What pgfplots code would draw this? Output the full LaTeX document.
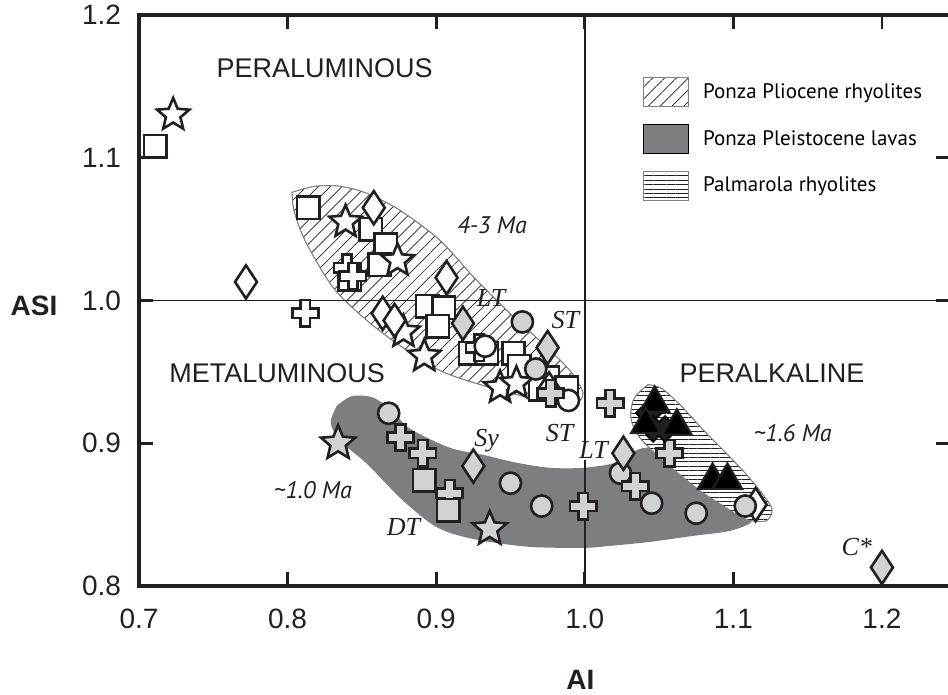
\documentclass[border=0pt]{standalone}
\usepackage{fontspec}
\setmainfont{Liberation Sans}
\newfontfamily\mfont{PT Sans}
\newfontfamily\tfont{Liberation Serif}
\usepackage{pgfplots}
\pgfplotsset{compat=1.18}
\usetikzlibrary{patterns.meta}

\definecolor{regiongray}{HTML}{7D7E82}
\definecolor{markgray}{HTML}{D1D2D4}
\definecolor{edge}{HTML}{231F20}

\pgfdeclareplotmark{fatplus}{%
  \pgfpathmoveto{\pgfpoint{-0.36\pgfplotmarksize}{\pgfplotmarksize}}%
  \pgfpathlineto{\pgfpoint{0.36\pgfplotmarksize}{\pgfplotmarksize}}%
  \pgfpathlineto{\pgfpoint{0.36\pgfplotmarksize}{0.36\pgfplotmarksize}}%
  \pgfpathlineto{\pgfpoint{\pgfplotmarksize}{0.36\pgfplotmarksize}}%
  \pgfpathlineto{\pgfpoint{\pgfplotmarksize}{-0.36\pgfplotmarksize}}%
  \pgfpathlineto{\pgfpoint{0.36\pgfplotmarksize}{-0.36\pgfplotmarksize}}%
  \pgfpathlineto{\pgfpoint{0.36\pgfplotmarksize}{-\pgfplotmarksize}}%
  \pgfpathlineto{\pgfpoint{-0.36\pgfplotmarksize}{-\pgfplotmarksize}}%
  \pgfpathlineto{\pgfpoint{-0.36\pgfplotmarksize}{-0.36\pgfplotmarksize}}%
  \pgfpathlineto{\pgfpoint{-\pgfplotmarksize}{-0.36\pgfplotmarksize}}%
  \pgfpathlineto{\pgfpoint{-\pgfplotmarksize}{0.36\pgfplotmarksize}}%
  \pgfpathlineto{\pgfpoint{-0.36\pgfplotmarksize}{0.36\pgfplotmarksize}}%
  \pgfpathclose
  \pgfusepathqfillstroke
}
\pgfdeclareplotmark{fatstar}{%
  \pgfpathmoveto{\pgfpoint{0pt}{\pgfplotmarksize}}%
  \pgfpathlineto{\pgfpoint{0.2645\pgfplotmarksize}{0.3641\pgfplotmarksize}}%
  \pgfpathlineto{\pgfpoint{0.9511\pgfplotmarksize}{0.3090\pgfplotmarksize}}%
  \pgfpathlineto{\pgfpoint{0.4280\pgfplotmarksize}{-0.1391\pgfplotmarksize}}%
  \pgfpathlineto{\pgfpoint{0.5878\pgfplotmarksize}{-0.8090\pgfplotmarksize}}%
  \pgfpathlineto{\pgfpoint{0pt}{-0.45\pgfplotmarksize}}%
  \pgfpathlineto{\pgfpoint{-0.5878\pgfplotmarksize}{-0.8090\pgfplotmarksize}}%
  \pgfpathlineto{\pgfpoint{-0.4280\pgfplotmarksize}{-0.1391\pgfplotmarksize}}%
  \pgfpathlineto{\pgfpoint{-0.9511\pgfplotmarksize}{0.3090\pgfplotmarksize}}%
  \pgfpathlineto{\pgfpoint{-0.2645\pgfplotmarksize}{0.3641\pgfplotmarksize}}%
  \pgfpathclose
  \pgfusepathqfillstroke
}

\pgfplotsset{
  openm/.style={only marks, mark options={fill=white, draw=edge, line width=1.3pt}},
  graym/.style={only marks, mark options={fill=markgray, draw=edge, line width=1.3pt}},
}

\begin{document}
\begin{tikzpicture}
\begin{axis}[
  scale only axis, width=405.5pt, height=285.5pt,
  xmin=0.7, xmax=1.2458, ymin=0.8, ymax=1.2,
  xtick={0.7,0.8,0.9,1.0,1.1,1.2},
  xticklabels={0.7,0.8,0.9,1.0,1.1,1.2},
  ytick={0.8,0.9,1.0,1.1,1.2},
  yticklabels={0.8,0.9,1.0,1.1,1.2},
  tick align=inside, major tick length=7pt,
  tick style={line width=1.4pt, edge},
  axis line style={line width=1.6pt, edge},
  ticklabel style={font=\fontsize{14}{16}\selectfont, text=edge},
  yticklabel style={xshift=-5.5pt},
  xticklabel style={yshift=-8pt},
  clip=false,
  legend style={at={(axis cs:1.0392,1.1565)}, anchor=north west, draw=none, fill=none,
    inner sep=0pt, row sep=8.5pt, font=\mfont\fontsize{10.5}{12}\selectfont,
    nodes={inner xsep=7pt, inner ysep=0pt}},
  legend cell align=left,
  legend image code/.code={\draw[#1] (0pt,-7.25pt) rectangle (22.5pt,7.25pt);},
]
% Ponza Pliocene rhyolites
\addplot[draw=gray, line width=0.4pt, fill=white,
  postaction={pattern={Lines[angle=45,distance=4.2pt,line width=0.35pt]}, pattern color=edge},
  smooth, tension=0.5] coordinates {
(0.8030,1.0758) (0.8184,1.0800) (0.8353,1.0800) (0.8534,1.0751) (0.8756,1.0632)
(0.9026,1.0421) (0.9261,1.0154) (0.9497,0.9909) (0.9732,0.9684) (0.9900,0.9509)
(0.9988,0.9354) (0.9934,0.9270) (0.9800,0.9277) (0.9544,0.9340) (0.9295,0.9411)
(0.9026,0.9509) (0.8756,0.9684) (0.8534,0.9860) (0.8306,1.0091) (0.8117,1.0421)
(0.8043,1.0632) (0.8030,1.0758)} -- cycle;
\addlegendentry{Ponza Pliocene rhyolites}
% Ponza Pleistocene lavas
\addplot[draw=none, fill=regiongray, smooth, tension=0.5] coordinates {
(0.8332,0.9263) (0.8433,0.9330) (0.8575,0.9320) (0.8703,0.9228) (0.8824,0.9102)
(0.9093,0.8968) (0.9315,0.8919) (0.9544,0.8863) (0.9766,0.8828) (0.9988,0.8828)
(1.0203,0.8863) (1.0371,0.8961) (1.0506,0.8947) (1.0775,0.8737) (1.1011,0.8561)
(1.1125,0.8456) (1.0977,0.8386) (1.0728,0.8351) (1.0439,0.8309) (1.0170,0.8281)
(0.9988,0.8267) (0.9631,0.8274) (0.9315,0.8316) (0.9093,0.8372) (0.8958,0.8442)
(0.8756,0.8618) (0.8534,0.8856) (0.8353,0.9018) (0.8290,0.9144) (0.8332,0.9263)} -- cycle;
\addlegendentry{Ponza Pleistocene lavas}
% Palmarola rhyolites
\addplot[draw=gray, line width=0.4pt, fill=white,
  postaction={pattern={Lines[angle=0,distance=2.2pt,line width=0.3pt]}, pattern color=edge},
  smooth, tension=0.5] coordinates {
(1.0425,0.9411) (1.0520,0.9382) (1.0654,0.9256) (1.0789,0.9102) (1.0923,0.8961)
(1.1065,0.8807) (1.1179,0.8667) (1.1260,0.8540) (1.1219,0.8456) (1.1078,0.8470)
(1.0910,0.8575) (1.0775,0.8667) (1.0641,0.8779) (1.0506,0.8898) (1.0371,0.9039)
(1.0311,0.9172) (1.0331,0.9312) (1.0425,0.9411)} -- cycle;
\addlegendentry{Palmarola rhyolites}

% division lines
\addplot[edge, line width=0.8pt] coordinates {(1.0,0.8) (1.0,1.2)};
\addplot[edge, line width=0.8pt] coordinates {(0.7,1.0) (1.2458,1.0)};

% open symbols
\addplot[openm, mark=square*, mark size=5.6pt] coordinates {
(0.711,1.108) (0.814,1.065) (0.856,1.050) (0.866,1.039) (0.862,1.025) (0.842,1.015)
(0.894,0.996) (0.905,0.995) (0.901,0.982) (0.923,0.963) (0.934,0.963) (0.952,0.963)
(0.956,0.954) (0.975,0.946) (0.970,0.938) (0.988,0.939)};
\addplot[openm, mark=fatstar, mark size=8.5pt] coordinates {
(0.723,1.130) (0.839,1.055) (0.874,1.028) (0.878,0.978) (0.892,0.961) (0.943,0.939) (0.954,0.942)};
\addplot[only marks, mark=diamond*, mark size=8.3pt, mark options={fill=white, draw=edge, line width=1.3pt, xscale=0.88}] coordinates {
(0.772,1.013) (0.858,1.065) (0.907,1.016) (0.864,0.991) (0.872,0.986) (0.976,0.938) (1.115,0.857)};
\addplot[openm, mark=fatplus, mark size=6.6pt] coordinates {
(0.812,0.991) (0.840,1.023) (0.844,1.017) (0.929,0.967)};
\addplot[openm, mark=*, mark size=5.3pt] coordinates {
(0.933,0.968) (0.989,0.930)};

% grey symbols
\addplot[graym, mark=*, mark size=5.3pt] coordinates {
(0.958,0.985) (0.967,0.952) (0.868,0.921) (0.950,0.872) (0.971,0.856) (1.024,0.879)
(1.045,0.858) (1.075,0.851) (1.108,0.856)};
\addplot[only marks, mark=diamond*, mark size=8.3pt, mark options={fill=markgray, draw=edge, line width=1.3pt, xscale=0.88}] coordinates {
(0.918,0.984) (0.975,0.967) (0.925,0.884) (1.026,0.893) (1.200,0.813)};
\addplot[graym, mark=fatplus, mark size=6.6pt] coordinates {
(0.977,0.935) (1.017,0.928) (0.876,0.904) (0.891,0.893) (0.909,0.865) (0.999,0.856)
(1.034,0.870) (1.057,0.893)};
\addplot[graym, mark=square*, mark size=5.6pt] coordinates {
(0.892,0.874) (0.908,0.853)};
\addplot[graym, mark=fatstar, mark size=9pt] coordinates {
(0.834,0.900) (0.936,0.840)};

% black symbols
\addplot[only marks, mark=fatplus, mark size=6.6pt, mark options={rotate=45, fill=edge, draw=black, line width=1pt}] coordinates {
(1.043,0.917) (1.050,0.910)};
\addplot[only marks, mark=triangle*, mark size=8.5pt, mark options={fill=black, draw=edge, line width=1pt}] coordinates {
(1.047,0.928) (1.062,0.912) (1.041,0.913) (1.086,0.874) (1.096,0.874)};

% field names
\node[font=\fontsize{13.5}{16}\selectfont, text=edge] at (axis cs:0.825,1.163) {PERALUMINOUS};
\node[font=\fontsize{13.5}{16}\selectfont, text=edge] at (axis cs:0.793,0.949) {METALUMINOUS};
\node[font=\fontsize{13.5}{16}\selectfont, text=edge] at (axis cs:1.126,0.949) {PERALKALINE};
% ages
\node[font=\mfont\itshape\fontsize{12}{14}\selectfont, text=edge] at (axis cs:0.9376,1.0526) {4-3 Ma};
\node[font=\mfont\itshape\fontsize{12}{14}\selectfont, text=edge] at (axis cs:1.140,0.907) {\textasciitilde1.6 Ma};
\node[font=\mfont\itshape\fontsize{12}{14}\selectfont, text=edge] at (axis cs:0.817,0.867) {\textasciitilde1.0 Ma};
% sample labels
\node[font=\tfont\itshape\fontsize{13}{15}\selectfont, text=edge, inner sep=0pt] at (axis cs:0.937,1.002) {LT};
\node[font=\tfont\itshape\fontsize{13}{15}\selectfont, text=edge, inner sep=0pt] at (axis cs:0.987,0.986) {ST};
\node[font=\tfont\itshape\fontsize{13}{15}\selectfont, text=edge, inner sep=0pt] at (axis cs:0.983,0.907) {ST};
\node[font=\tfont\itshape\fontsize{13}{15}\selectfont, text=edge, inner sep=0pt] at (axis cs:0.934,0.902) {Sy};
\node[font=\tfont\itshape\fontsize{13}{15}\selectfont, text=edge, inner sep=0pt] at (axis cs:0.878,0.841) {DT};
\node[font=\tfont\itshape\fontsize{13}{15}\selectfont, text=edge, fill=white, inner sep=0.5pt] at (axis cs:1.006,0.895) {LT};
\node[font=\tfont\itshape\fontsize{13}{15}\selectfont, text=edge, inner sep=0pt] at (axis cs:1.183,0.827) {C*};
% axis titles
\node[font=\bfseries\fontsize{14}{16}\selectfont, text=edge] at (axis cs:0.997,0.8) [yshift=-47pt] {AI};
\node[font=\bfseries\fontsize{14}{16}\selectfont, text=edge] at (axis cs:0.7,0.9965) [xshift=-52.5pt] {ASI};
\coordinate (O) at (rel axis cs:0,0);
\end{axis}
\pgfresetboundingbox
\path (O) ++(-69.5pt,-54.5pt) rectangle ++(474pt,347.5pt);
\end{tikzpicture}
\end{document}
